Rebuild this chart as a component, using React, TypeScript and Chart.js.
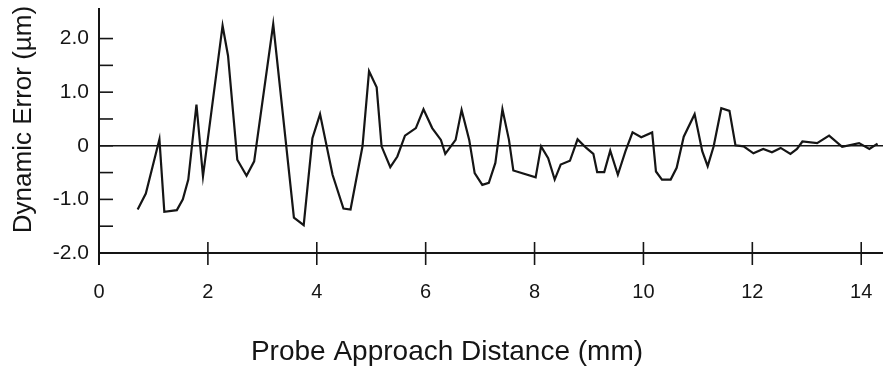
import React, { useEffect, useRef } from "react";
import { Chart, registerables } from "chart.js";

Chart.register(...registerables);

// Probe approach distance (mm)
const distance: number[] = [
  0.71, 0.86, 1.11, 1.2, 1.43, 1.54, 1.64, 1.79, 1.91, 2.27, 2.37, 2.54, 2.71, 2.85, 3.2,
  3.58, 3.76, 3.92, 4.06, 4.29, 4.49, 4.62, 4.84, 4.96, 5.1, 5.19, 5.35, 5.48, 5.62, 5.82,
  5.96, 6.12, 6.28, 6.36, 6.55, 6.66, 6.8, 6.9, 7.04, 7.16, 7.28, 7.41, 7.53, 7.61, 8.02,
  8.12, 8.25, 8.37, 8.48, 8.65, 8.79, 8.95, 9.08, 9.15, 9.28, 9.39, 9.53, 9.67, 9.8, 9.96,
  10.16, 10.23, 10.34, 10.5, 10.61, 10.74, 10.94, 11.08, 11.18, 11.29, 11.43, 11.58, 11.69,
  11.84, 12.02, 12.2, 12.36, 12.52, 12.7, 12.82, 12.92, 13.19, 13.41, 13.65, 13.96, 14.15,
  14.3,
];

// Dynamic error (µm)
const dynamicError: number[] = [
  -1.19, -0.89, 0.12, -1.23, -1.2, -1.0, -0.63, 0.77, -0.57, 2.24, 1.68, -0.26, -0.56, -0.29,
  2.27, -1.34, -1.48, 0.14, 0.59, -0.54, -1.17, -1.19, -0.01, 1.39, 1.09, -0.01, -0.4, -0.2,
  0.19, 0.33, 0.68, 0.33, 0.11, -0.15, 0.11, 0.67, 0.11, -0.51, -0.73, -0.69, -0.32, 0.68,
  0.11, -0.46, -0.59, -0.01, -0.23, -0.63, -0.35, -0.28, 0.12, -0.04, -0.15, -0.49, -0.49,
  -0.09, -0.54, -0.1, 0.25, 0.16, 0.25, -0.48, -0.63, -0.63, -0.41, 0.17, 0.59, -0.1, -0.38,
  -0.01, 0.7, 0.65, 0.01, -0.01, -0.14, -0.06, -0.12, -0.04, -0.15, -0.06, 0.08, 0.05, 0.19,
  -0.02, 0.05, -0.06, 0.04,
];

const xTickValues: number[] = [0, 2, 4, 6, 8, 10, 12, 14];
const yTickValues: number[] = [-2, -1.5, -1, -0.5, 0, 0.5, 1, 1.5, 2];
const yTickLabels: Record<string, string> = { "-2": "-2.0", "-1": "-1.0", "0": "0", "1": "1.0", "2": "2.0" };

const xTitle = "Probe Approach Distance (mm)";
const yTitle = "Dynamic Error (µm)";

const INK = "#151515";
const FONT = '"Liberation Sans", Arial, Helvetica, sans-serif';

const axesPlugin = {
  id: "customAxes",
  beforeDatasetsDraw(chart: any) {
    const { ctx, chartArea, scales } = chart;
    const xs = scales.x;
    const ys = scales.y;
    const left = chartArea.left;
    const right = chartArea.right;
    const top = chartArea.top;
    const bottom = ys.getPixelForValue(-2);
    ctx.save();
    ctx.strokeStyle = INK;
    ctx.lineCap = "butt";
    // y axis line
    ctx.lineWidth = 2;
    ctx.beginPath();
    ctx.moveTo(left, top);
    ctx.lineTo(left, bottom + 12);
    ctx.stroke();
    // x axis line
    ctx.beginPath();
    ctx.moveTo(left, bottom);
    ctx.lineTo(right, bottom);
    ctx.stroke();
    // zero line
    ctx.lineWidth = 1.6;
    const y0 = ys.getPixelForValue(0);
    ctx.beginPath();
    ctx.moveTo(left, y0);
    ctx.lineTo(right, y0);
    ctx.stroke();
    // y ticks (inward)
    ctx.lineWidth = 1.6;
    for (const v of yTickValues) {
      const py = ys.getPixelForValue(v);
      ctx.beginPath();
      ctx.moveTo(left, py);
      ctx.lineTo(left + 14, py);
      ctx.stroke();
    }
    // x ticks (crossing)
    for (const v of xTickValues) {
      const px = xs.getPixelForValue(v);
      ctx.beginPath();
      ctx.moveTo(px, bottom - 11);
      ctx.lineTo(px, bottom + 12);
      ctx.stroke();
    }
    ctx.restore();
  },
  afterDraw(chart: any) {
    const { ctx } = chart;
    ctx.save();
    ctx.fillStyle = INK;
    ctx.font = `28px ${FONT}`;
    ctx.textAlign = "center";
    ctx.textBaseline = "alphabetic";
    ctx.fillText(xTitle, 447, 360);
    ctx.translate(31, 119.5);
    ctx.rotate(-Math.PI / 2);
    ctx.font = `26px ${FONT}`;
    ctx.fillText(yTitle, 0, 0);
    ctx.restore();
  },
};

export default function App() {
  const canvasRef = useRef<HTMLCanvasElement | null>(null);

  useEffect(() => {
    if (!canvasRef.current) return;
    const points = distance.map((d, i) => ({ x: d, y: dynamicError[i] }));
    const chart = new Chart(canvasRef.current, {
      type: "line",
      data: {
        datasets: [
          {
            data: points,
            borderColor: INK,
            borderWidth: 2.2,
            pointRadius: 0,
            tension: 0,
            fill: false,
          },
        ],
      },
      options: {
        responsive: false,
        animation: false,
        events: [],
        layout: { padding: { top: 8, right: 8, left: 0, bottom: 0 } },
        plugins: { legend: { display: false }, tooltip: { enabled: false }, title: { display: false } },
        scales: {
          x: {
            type: "linear",
            min: 0,
            max: 14.4,
            afterFit: (s: any) => {
              s.height = 114;
              s.paddingLeft = 0;
              s.paddingRight = 0;
            },
            grid: { display: false, drawTicks: false },
            border: { display: false },
            ticks: {
              stepSize: 2,
              includeBounds: false,
              padding: 27,
              color: INK,
              font: { size: 20, family: FONT },
              maxRotation: 0,
              callback: (v: any) => (xTickValues.includes(Number(v)) ? String(v) : ""),
            },
          },
          y: {
            type: "linear",
            min: -2,
            max: 2.57,
            afterFit: (s: any) => {
              s.width = 99;
              s.paddingTop = 0;
              s.paddingBottom = 0;
            },
            grid: { display: false, drawTicks: false },
            border: { display: false },
            ticks: {
              stepSize: 0.5,
              includeBounds: false,
              padding: 10,
              color: INK,
              font: { size: 21, family: FONT },
              callback: (v: any) => yTickLabels[String(Number(v))] ?? "",
            },
          },
        },
      },
      plugins: [axesPlugin],
    });
    return () => chart.destroy();
  }, []);

  return (
    <div style={{ position: "absolute", left: 0, top: 0, width: 891, height: 367, background: "#fff" }}>
      <canvas ref={canvasRef} width={891} height={367} style={{ display: "block" }} />
    </div>
  );
}
